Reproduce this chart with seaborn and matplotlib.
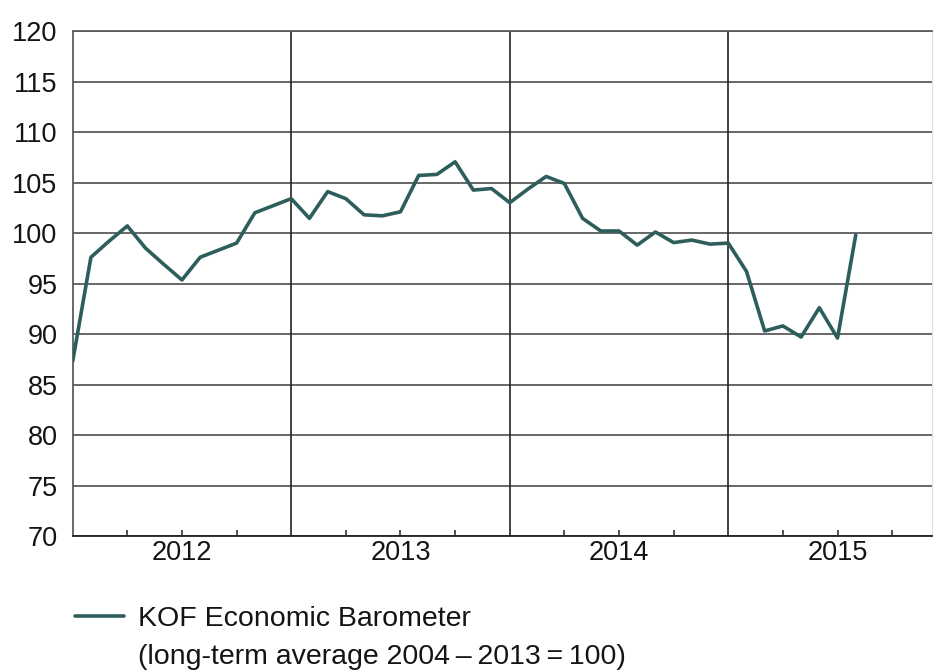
import matplotlib
matplotlib.use('Agg')
import matplotlib.pyplot as plt
import pandas as pd
import seaborn as sns

# KOF Economic Barometer, monthly values
kof_2012 = [87.3, 97.6, 99.2, 100.7, 98.5, 96.9, 95.35, 97.6, 98.3, 99.0, 102.0, 102.7]
kof_2013 = [103.4, 101.45, 104.1, 103.4, 101.8, 101.7, 102.1, 105.7, 105.8, 107.05, 104.25, 104.4]
kof_2014 = [103.0, 104.35, 105.6, 104.9, 101.45, 100.2, 100.2, 98.8, 100.1, 99.05, 99.3, 98.9]
kof_2015 = [99.0, 96.2, 90.3, 90.8, 89.7, 92.6, 89.6, 99.8]

years = [2012, 2013, 2014, 2015]
y_ticks = [70, 75, 80, 85, 90, 95, 100, 105, 110, 115, 120]
legend_line1 = 'KOF Economic Barometer'
legend_line2 = '(long-term average 2004\u2009\u2013\u20092013\u2009=\u2009100)'

values = kof_2012 + kof_2013 + kof_2014 + kof_2015
dates = pd.date_range('2012-01-01', periods=len(values), freq='MS')
df = pd.DataFrame({'date': dates, 'value': values})
df['month_idx'] = (df['date'].dt.year - years[0]) * 12 + df['date'].dt.month - 1

line_color = '#2d5e5c'
text_color = '#141414'
grid_color = '#5c5c5c'

sns.set_style('white')
plt.rcParams['font.family'] = ['Liberation Sans', 'DejaVu Sans']

W, H = 939, 670
fig = plt.figure(figsize=(W / 100, H / 100), dpi=100)
left_px, right_px, top_px, bottom_px = 72.7, 932, 31, 536
ax = fig.add_axes([left_px / W, 1 - bottom_px / H, (right_px - left_px) / W, (bottom_px - top_px) / H])

sns.lineplot(data=df, x='month_idx', y='value', ax=ax, color=line_color,
             linewidth=2.6, legend=False, zorder=5)

month_px = 18.21
ax.set_xlim(0, (right_px - left_px) / month_px)
ax.set_ylim(y_ticks[0], y_ticks[-1])

# horizontal grid
ax.set_yticks(y_ticks)
ax.yaxis.grid(True, color=grid_color, linewidth=1.3)
ax.set_axisbelow(True)

# year separators
for i in range(1, len(years)):
    ax.axvline(i * 12, color='#222222', linewidth=1.2, zorder=2)

# quarter ticks, year labels at mid-year
ax.set_xticks([i * 12 + 6 for i in range(len(years))])
ax.set_xticklabels([str(y) for y in years])
ax.set_xticks([i * 12 + q for i in range(len(years)) for q in (3, 9)], minor=True)
ax.tick_params(axis='x', which='both', direction='in', length=4.5, width=1.1,
               color='#222222', bottom=True, pad=3, labelsize=19.5, labelcolor=text_color)
ax.tick_params(axis='y', length=0, pad=11, labelsize=19.5, labelcolor=text_color)

ax.set_xlabel('')
ax.set_ylabel('')

for side in ['top', 'left']:
    ax.spines[side].set_color(grid_color)
    ax.spines[side].set_linewidth(1.3)
ax.spines['right'].set_color('#e2e2e2')
ax.spines['right'].set_linewidth(0.8)
ax.spines['bottom'].set_color('#222222')
ax.spines['bottom'].set_linewidth(1.3)

# legend below the plot
handle = ax.get_lines()[0]
fs = 20.5
fs_px = fs * 100 / 72
fig.legend(handles=[handle], labels=[legend_line1], loc='center left',
           bbox_to_anchor=(75 / W, 1 - 619 / H), frameon=False, fontsize=fs,
           borderpad=0, borderaxespad=0, handlelength=49 / fs_px,
           handletextpad=14 / fs_px, labelcolor=text_color)
fig.text(138 / W, 1 - 664 / H, legend_line2, fontsize=fs, color=text_color,
         va='baseline', ha='left')

fig.savefig('out.png', dpi=100)
